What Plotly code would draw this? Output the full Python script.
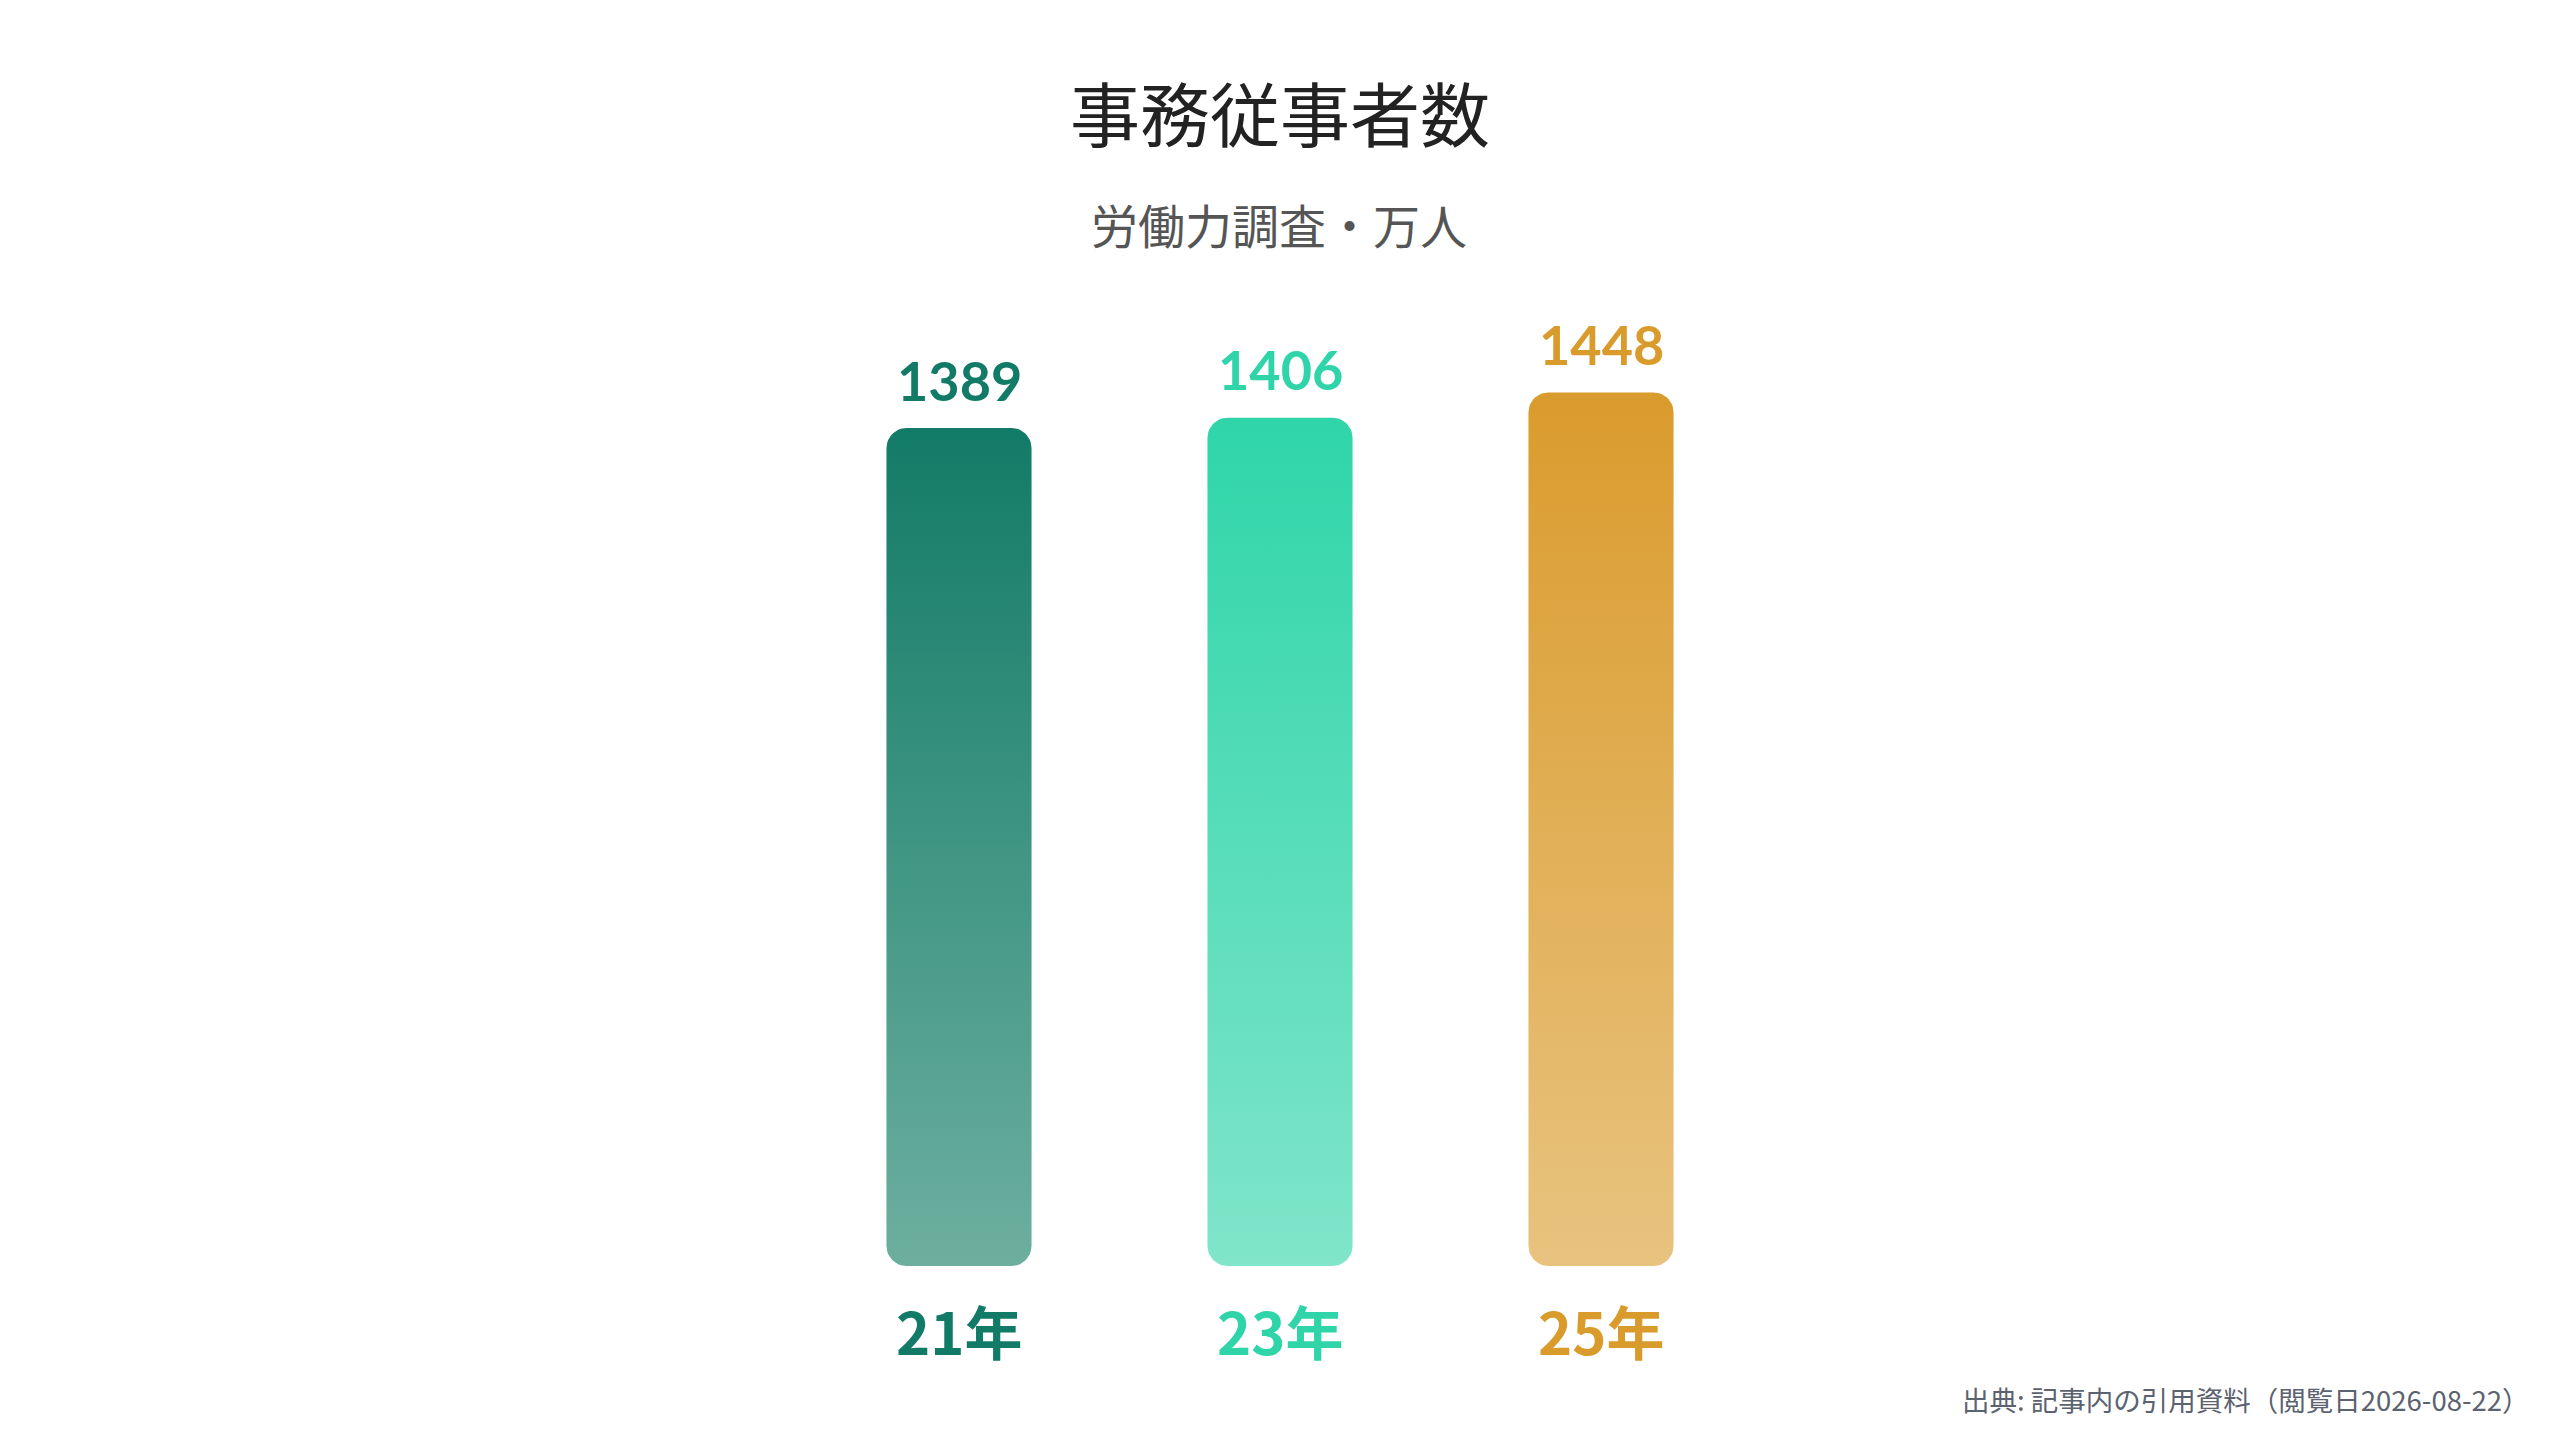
import numpy as np
import plotly.graph_objects as go

# data
years = ['21年', '23年', '25年']
workers = [1389, 1406, 1448]  # 万人
top_colors = ['#127B67', '#2FD5A9', '#DA9B2D']
bottom_colors = ['#6DAF9F', '#80E5C9', '#E8C37F']

title_text = '事務従事者数'
subtitle_text = '労働力調査・万人'
source_text = '出典: 記事内の引用資料（閲覧日2026-08-22）'

W, H = 2560, 1440
x_range = [-2.9626, 5.0124]
y_range = [-301.7, 2085.2]
bar_half = 0.226
radius_px = 20

px_x = W / (x_range[1] - x_range[0])
px_y = H / (y_range[1] - y_range[0])
rx = radius_px / px_x
ry = radius_px / px_y


def rounded_bar(xc, val):
    # rounded rectangle outline from 0 to val, centred on xc
    x0, x1 = xc - bar_half, xc + bar_half
    t = np.linspace(0, np.pi / 2, 12)
    xs, ys = [], []
    # bottom-right corner
    xs += list(x1 - rx + rx * np.sin(t)); ys += list(ry - ry * np.cos(t))
    # top-right
    xs += list(x1 - rx + rx * np.cos(t)); ys += list(val - ry + ry * np.sin(t))
    # top-left
    xs += list(x0 + rx - rx * np.sin(t)); ys += list(val - ry + ry * np.cos(t))
    # bottom-left
    xs += list(x0 + rx - rx * np.cos(t)); ys += list(ry - ry * np.sin(t))
    xs.append(xs[0]); ys.append(ys[0])
    return xs, ys


fig = go.Figure()

for i, (yr, v) in enumerate(zip(years, workers)):
    xs, ys = rounded_bar(i, v)
    fig.add_trace(go.Scatter(
        x=xs, y=ys,
        mode='lines',
        line=dict(width=0),
        fill='toself',
        fillgradient=dict(type='vertical',
                          colorscale=[[0, bottom_colors[i]], [1, top_colors[i]]]),
        hoverinfo='skip',
        showlegend=False,
    ))
    # value label
    fig.add_annotation(x=i, y=v, text=f'<b>{v}</b>', showarrow=False,
                       yanchor='middle', yshift=48,
                       font=dict(family='Lato, Noto Sans', size=54, color=top_colors[i]))
    # category label
    fig.add_annotation(x=i, y=0, text=f'<b>{yr}</b>', showarrow=False,
                       yanchor='middle', yshift=-64,
                       font=dict(family='Noto Sans CJK JP', size=58, color=top_colors[i]))

fig.add_annotation(xref='paper', yref='paper', x=1272 / W, y=1 - 104 / H,
                   text=title_text, showarrow=False, yanchor='middle',
                   font=dict(family='Noto Sans CJK JP', size=70, color='#222222'))
fig.add_annotation(xref='paper', yref='paper', x=1271 / W, y=1 - 215 / H,
                   text=subtitle_text, showarrow=False, yanchor='middle',
                   font=dict(family='Noto Sans CJK JP', size=47, color='#555555'))
fig.add_annotation(xref='paper', yref='paper', x=2524 / W, y=1 - 1391 / H,
                   text=source_text, showarrow=False, xanchor='right', yanchor='middle',
                   font=dict(family='Noto Sans CJK JP', size=27.5, color='#5B6270'))

fig.update_layout(
    width=W, height=H,
    margin=dict(l=0, r=0, t=0, b=0),
    paper_bgcolor='white', plot_bgcolor='white',
    xaxis=dict(range=x_range, visible=False, fixedrange=True),
    yaxis=dict(range=y_range, visible=False, fixedrange=True),
)

fig.write_html('out.html')
